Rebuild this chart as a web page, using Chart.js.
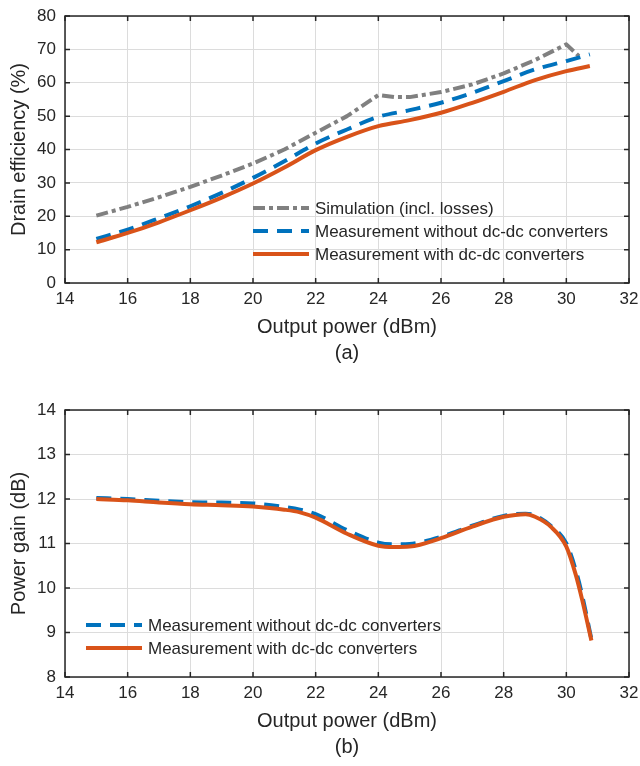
<!DOCTYPE html>
<html>
<head>
<meta charset="utf-8">
<script src="https://cdn.jsdelivr.net/npm/chart.js@4"></script>
<style>
  html, body { margin: 0; padding: 0; background: #ffffff; }
  #wrapA { position: absolute; left: 0; top: 0; width: 640px; height: 372px; }
  #wrapB { position: absolute; left: 0; top: 394px; width: 640px; height: 372px; }
</style>
</head>
<body>
<div id="wrapA"><canvas id="chartA" width="640" height="372"></canvas></div>
<div id="wrapB"><canvas id="chartB" width="640" height="372"></canvas></div>
<script>
// ---------- Data ----------
// (a) Drain efficiency (%)
const simX = [15, 16, 17, 18, 19, 20, 21, 22, 23, 24, 24.5, 25, 26, 27, 28, 29, 30, 30.4];
const simEff = [20.2, 22.8, 25.7, 28.8, 32.2, 35.8, 40, 45, 50, 56.3, 55.7, 55.7, 57.2, 59.5, 62.8, 66.8, 71.5, 68];
const measX = [15, 16, 17, 18, 19, 20, 21, 22, 23, 24, 25, 26, 27, 28, 29, 30, 30.75];
const effWithout = [13.2, 16, 19.4, 23, 27, 31.5, 36.5, 41.8, 46, 49.8, 51.8, 54, 57, 60.5, 64, 66.5, 68.5];
const effWith = [12.2, 15, 18.2, 21.8, 25.6, 29.8, 34.6, 39.8, 43.8, 47, 48.8, 51, 54, 57.3, 60.8, 63.5, 65];

// (b) Power gain (dB)
const gainX = [15, 16, 17, 18, 19, 20, 21, 21.5, 22, 23, 24, 24.5, 25, 26, 27, 28, 28.7, 29, 29.5, 30, 30.3, 30.5, 30.8];
const gainWithout = [12.02, 12.0, 11.96, 11.93, 11.92, 11.9, 11.82, 11.76, 11.66, 11.3, 11.02, 10.98, 10.99, 11.15, 11.4, 11.62, 11.67, 11.63, 11.4, 11.0, 10.4, 9.85, 8.85];
const gainWith = [12.0, 11.97, 11.92, 11.88, 11.86, 11.83, 11.76, 11.7, 11.58, 11.22, 10.95, 10.92, 10.93, 11.12, 11.38, 11.6, 11.66, 11.6, 11.38, 10.93, 10.3, 9.75, 8.82];

// Axis ranges [min, max, step]
const xRange = [14, 32, 2];
const effRange = [0, 80, 10];
const gainRange = [8, 14, 1];

const labels = {
  sim: 'Simulation (incl. losses)',
  without: 'Measurement without dc-dc converters',
  with: 'Measurement with dc-dc converters',
  xTitle: 'Output power (dBm)',
  effTitle: 'Drain efficiency (%)',
  gainTitle: 'Power gain (dB)'
};

// ---------- Styling ----------
const FONT = '"Liberation Sans", Arial, Helvetica, sans-serif';
const TEXT = '#262626';
const GRID = '#dcdcdc';
const C_GRAY = '#808080', C_BLUE = '#0072BD', C_ORANGE = '#D95319';

const toPts = (xs, ys) => xs.map((x, i) => ({ x: x, y: ys[i] }));

// Frame + inward tick marks (MATLAB box style)
const frameTicks = {
  id: 'frameTicks',
  afterDraw(chart, args, opts) {
    const { ctx, chartArea: a, scales } = chart;
    ctx.save();
    ctx.strokeStyle = opts.color;
    ctx.lineWidth = 1.5;
    ctx.setLineDash([]);
    ctx.beginPath();
    const L = opts.length;
    scales.x.ticks.forEach(t => {
      const px = scales.x.getPixelForValue(t.value);
      ctx.moveTo(px, a.bottom); ctx.lineTo(px, a.bottom - L);
      ctx.moveTo(px, a.top); ctx.lineTo(px, a.top + L);
    });
    scales.y.ticks.forEach(t => {
      const py = scales.y.getPixelForValue(t.value);
      ctx.moveTo(a.left, py); ctx.lineTo(a.left + L, py);
      ctx.moveTo(a.right, py); ctx.lineTo(a.right - L, py);
    });
    ctx.stroke();
    ctx.strokeRect(a.left, a.top, a.right - a.left, a.bottom - a.top);
    ctx.restore();
  }
};

// Legend drawn inside the plot area (no box), from the datasets themselves
const inLegend = {
  id: 'inLegend',
  afterDatasetsDraw(chart, args, opts) {
    const ctx = chart.ctx;
    ctx.save();
    ctx.font = opts.fontSize + 'px ' + FONT;
    ctx.textBaseline = 'middle';
    ctx.textAlign = 'left';
    chart.data.datasets.forEach((ds, i) => {
      const y = opts.y + i * opts.rowHeight;
      ctx.beginPath();
      ctx.setLineDash(ds.borderDash || []);
      ctx.lineCap = 'butt';
      ctx.strokeStyle = ds.borderColor;
      ctx.lineWidth = ds.borderWidth;
      ctx.moveTo(opts.x, y);
      ctx.lineTo(opts.x + opts.sample, y);
      ctx.stroke();
      ctx.setLineDash([]);
      ctx.fillStyle = TEXT;
      ctx.fillText(ds.label, opts.x + opts.sample + opts.gap, y + 1);
    });
    ctx.restore();
  }
};

function makeOptions(yRange, yTitle, caption, legendPos) {
  return {
    responsive: false,
    animation: false,
    devicePixelRatio: 1,
    layout: { padding: { top: 16, right: 11, left: 0, bottom: 0 } },
    elements: { point: { radius: 0 }, line: { cubicInterpolationMode: 'monotone', borderCapStyle: 'butt', borderJoinStyle: 'round' } },
    plugins: {
      legend: { display: false },
      tooltip: { enabled: false },
      frameTicks: { color: TEXT, length: 5 },
      inLegend: legendPos
    },
    scales: {
      x: {
        type: 'linear',
        min: xRange[0], max: xRange[1],
        ticks: { stepSize: xRange[2], color: TEXT, font: { family: FONT, size: 17 }, padding: 6, maxRotation: 0 },
        grid: { color: GRID, lineWidth: 1, drawTicks: false },
        border: { display: false },
        title: {
          display: true,
          text: [labels.xTitle, caption],
          color: TEXT,
          font: { family: FONT, size: 20, lineHeight: 1.3 },
          padding: { top: 0, bottom: 6 }
        },
        afterFit: s => { s.height = 89; s.paddingLeft = 10; s.paddingRight = 10; }
      },
      y: {
        type: 'linear',
        min: yRange[0], max: yRange[1],
        ticks: { stepSize: yRange[2], color: TEXT, font: { family: FONT, size: 17 }, padding: 9 },
        grid: { color: GRID, lineWidth: 1, drawTicks: false },
        border: { display: false },
        title: {
          display: true,
          text: yTitle,
          color: TEXT,
          font: { family: FONT, size: 20, lineHeight: 1.2 },
          padding: { top: 7, bottom: 0 }
        },
        afterFit: s => { s.width = 65; s.paddingTop = 10; s.paddingBottom = 10; }
      }
    }
  };
}

new Chart(document.getElementById('chartA'), {
  type: 'line',
  data: {
    datasets: [
      { label: labels.sim, data: toPts(simX, simEff), borderColor: C_GRAY, borderWidth: 4, borderDash: [12, 4, 4, 4], cubicInterpolationMode: 'default', tension: 0, order: 2 },
      { label: labels.without, data: toPts(measX, effWithout), borderColor: C_BLUE, borderWidth: 4, borderDash: [15, 9], order: 1 },
      { label: labels.with, data: toPts(measX, effWith), borderColor: C_ORANGE, borderWidth: 4, order: 0 }
    ]
  },
  options: makeOptions(effRange, labels.effTitle, '(a)', { x: 253, y: 208, rowHeight: 23, sample: 56, gap: 6, fontSize: 17 }),
  plugins: [frameTicks, inLegend]
});

new Chart(document.getElementById('chartB'), {
  type: 'line',
  data: {
    datasets: [
      { label: labels.without, data: toPts(gainX, gainWithout), borderColor: C_BLUE, borderWidth: 4, borderDash: [15, 9], order: 1 },
      { label: labels.with, data: toPts(gainX, gainWith), borderColor: C_ORANGE, borderWidth: 4, order: 0 }
    ]
  },
  options: makeOptions(gainRange, labels.gainTitle, '(b)', { x: 86, y: 231, rowHeight: 23, sample: 56, gap: 6, fontSize: 17 }),
  plugins: [frameTicks, inLegend]
});
</script>
</body>
</html>
